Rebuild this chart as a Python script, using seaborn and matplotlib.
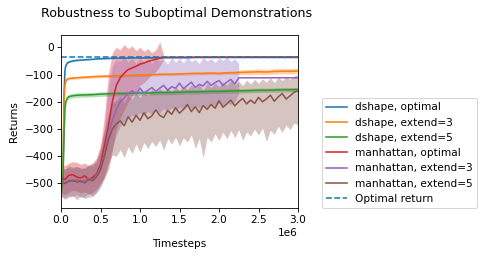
import numpy as np
import pandas as pd
import matplotlib
matplotlib.use("Agg")
import matplotlib.pyplot as plt
import seaborn as sns

# ---------------- data ----------------
series_names = ["dshape, optimal", "dshape, extend=3", "dshape, extend=5",
                "manhattan, optimal", "manhattan, extend=3", "manhattan, extend=5"]
optimal_return = -35

# dshape runs (timesteps in units of 1e6)
dshape_t = [0, 0.02, 0.03, 0.04, 0.05, 0.06, 0.08, 0.10, 0.15, 0.20,
            0.3, 0.4, 0.5, 0.6, 0.7, 0.8, 0.9, 1.0, 1.1, 1.2, 1.3, 1.4, 1.5, 1.6,
            1.7, 1.8, 1.9, 2.0, 2.1, 2.2, 2.3, 2.4, 2.5, 2.6, 2.7, 2.8, 2.9, 3.0]
dshape_opt = [-515, -490, -380, -160, -85, -68, -58, -54, -50, -48,
              -46, -44, -42, -41, -40, -40, -39, -39, -39, -38, -38, -38, -38, -38,
              -37, -37, -37, -37, -37, -37, -37, -37, -37, -37, -37, -37, -37, -37]
dshape_opt_spread = [10, 10, 10, 10, 6, 4, 3, 3, 3, 3,
                     2, 2, 2, 2, 2, 2, 2, 2, 2, 2, 2, 2, 2, 2,
                     2, 2, 2, 2, 2, 2, 2, 2, 2, 2, 2, 2, 2, 2]
dshape_ext3 = [-500, -470, -360, -200, -140, -125, -117, -115, -113, -112,
               -110, -108, -107, -106, -105, -104, -103, -102, -101, -100, -99, -99, -98, -97,
               -96, -96, -95, -96, -94, -93, -92, -91, -90, -91, -89, -88, -88, -87]
dshape_ext3_spread = [10, 10, 10, 10, 8, 6, 5, 5, 5, 5,
                      5, 5, 5, 5, 5, 5, 5, 5, 5, 5, 5, 5, 5, 5,
                      5, 5, 5, 5, 5, 6, 9, 10, 10, 10, 10, 10, 10, 10]
dshape_ext5 = [-530, -505, -430, -310, -230, -200, -186, -181, -178, -176,
               -175, -174, -172, -171, -170, -170, -169, -168, -168, -167, -166, -166, -165, -164,
               -164, -163, -162, -162, -161, -160, -160, -159, -158, -158, -157, -156, -156, -155]
dshape_ext5_spread = [10, 10, 10, 10, 10, 9, 8, 8, 8, 8,
                      8, 8, 8, 8, 8, 8, 8, 8, 8, 8, 8, 8, 8, 8,
                      8, 8, 8, 8, 8, 8, 8, 8, 8, 8, 8, 8, 8, 8]

# manhattan runs, every 0.05e6 timesteps
manh_t = [round(0.05 * i, 2) for i in range(61)]

manh_opt = [-480, -485, -470, -468, -476, -480, -472, -485, -478, -465,
            -430, -360, -290, -200, -140, -112, -95, -82, -76, -70,
            -62, -58, -52, -48, -44, -40, -37]
manh_opt_hi = [-430, -435, -425, -420, -422, -430, -425, -435, -428, -415,
               -370, -250, -100, -20, 0, -10, 10, -5, 5, -12,
               0, -15, -5, -20, -10, 20, -30]
manh_opt_lo = [-535, -540, -532, -525, -528, -535, -530, -540, -532, -520,
               -500, -480, -450, -380, -300, -260, -230, -200, -180, -160,
               -140, -130, -115, -100, -90, -70, -45]
manh_opt_final = -36

manh_ext3 = [-490, -496, -488, -493, -485, -496, -490, -480, -488, -470,
             -442, -392, -318, -268, -228, -200, -186, -170, -160, -172,
             -150, -168, -158, -148, -162, -150, -140, -158, -145, -150,
             -132, -152, -140, -128, -148, -136, -142, -125, -140, -130,
             -122, -140, -128, -118, -135, -112]
manh_ext3_hi = [-440, -448, -440, -445, -438, -446, -440, -432, -438, -420,
                -380, -300, -150, -70, -45, -50, -35, -55, -40, -60,
                -38, -55, -42, -60, -35, -50, -45, -62, -38, -55,
                -40, -58, -36, -52, -44, -60, -38, -50, -42, -55,
                -40, -48, -36, -52, -42, -60]
manh_ext3_lo = [-545, -552, -545, -548, -540, -552, -548, -535, -545, -530,
                -505, -470, -420, -370, -320, -290, -270, -260, -250, -255,
                -240, -250, -235, -245, -230, -240, -225, -236, -222, -232,
                -220, -230, -215, -226, -214, -224, -210, -220, -208, -218,
                -205, -215, -202, -210, -200, -170]
manh_ext3_final = -112

manh_ext5 = [-495, -500, -492, -488, -495, -490, -498, -485, -490, -475,
             -450, -400, -340, -300, -282, -270, -288, -255, -275, -250,
             -268, -240, -262, -252, -230, -250, -258, -232, -246, -222,
             -242, -228, -210, -236, -218, -240, -214, -228, -210, -224,
             -196, -220, -208, -194, -215, -200, -188, -208, -194, -206,
             -184, -200, -190, -176, -198, -182, -170, -190, -178, -165,
             -160]
manh_ext5_hi = [-440, -448, -435, -440, -438, -442, -446, -432, -425, -405,
                -360, -300, -245, -205, -195, -180, -205, -175, -190, -168,
                -185, -160, -178, -155, -172, -150, -168, -148, -165, -145,
                -160, -142, -155, -138, -152, -135, -158, -132, -148, -130,
                -145, -128, -140, -122, -138, -126, -140, -120, -135, -118,
                -132, -116, -128, -112, -130, -110, -122, -108, -118, -105,
                -100]
manh_ext5_lo = [-548, -558, -550, -545, -560, -545, -555, -550, -548, -535,
                -515, -480, -430, -395, -400, -375, -405, -365, -390, -355,
                -385, -350, -372, -345, -365, -340, -378, -335, -355, -330,
                -362, -332, -348, -322, -372, -335, -405, -330, -348, -318,
                -342, -312, -336, -305, -332, -302, -342, -310, -326, -300,
                -322, -296, -345, -305, -320, -290, -312, -286, -302, -278,
                -285]

# ---------------- assemble ----------------
def dshape_frame(mean, spread):
    m = np.array(mean, float)
    s = np.array(spread, float)
    return pd.DataFrame({"t": np.array(dshape_t) * 1e6, "ret": m, "lo": m - s, "hi": m + s})

def manh_frame(mean, lo, hi, final=None):
    n = len(mean)
    t = list(np.array(manh_t[:n]) * 1e6)
    m, l, h = list(mean), list(lo), list(hi)
    if final is not None:
        t.append(3.0e6); m.append(final); l.append(np.nan); h.append(np.nan)
    return pd.DataFrame({"t": t, "ret": m, "lo": l, "hi": h})

frames = [
    dshape_frame(dshape_opt, dshape_opt_spread),
    dshape_frame(dshape_ext3, dshape_ext3_spread),
    dshape_frame(dshape_ext5, dshape_ext5_spread),
    manh_frame(manh_opt, manh_opt_lo, manh_opt_hi, manh_opt_final),
    manh_frame(manh_ext3, manh_ext3_lo, manh_ext3_hi, manh_ext3_final),
    manh_frame(manh_ext5, manh_ext5_lo, manh_ext5_hi),
]

# ---------------- plot ----------------
W, H = 485, 258
DPI = 75.6
fig = plt.figure(figsize=(W / DPI, H / DPI), dpi=DPI)
ax = fig.add_axes([61 / W, 1 - 208 / H, (298 - 61) / W, (208 - 35) / H])
palette = sns.color_palette("tab10")

for i, (name, df) in enumerate(zip(series_names, frames)):
    c = palette[i]
    sns.lineplot(data=df, x="t", y="ret", ax=ax, color=c, label=name,
                 linewidth=1.5, errorbar=None)
    ax.fill_between(df["t"], df["lo"], df["hi"], color=c, alpha=0.35, linewidth=0)

ax.axhline(optimal_return, color=palette[0], linestyle="--", linewidth=1.5,
           label="Optimal return")

ax.set_xlim(0, 3e6)
ax.set_ylim(-590, 45)
ax.set_xlabel("Timesteps", fontsize=10, labelpad=13)
ax.set_ylabel("Returns", fontsize=10, labelpad=5)
ax.set_title("Robustness to Suboptimal Demonstrations", fontsize=12, pad=17, x=0.487)
ax.tick_params(labelsize=10)
ax.legend(loc="lower left", bbox_to_anchor=(1.1, 0), borderaxespad=0, fontsize=10)

fig.savefig("out.png", dpi=DPI)
